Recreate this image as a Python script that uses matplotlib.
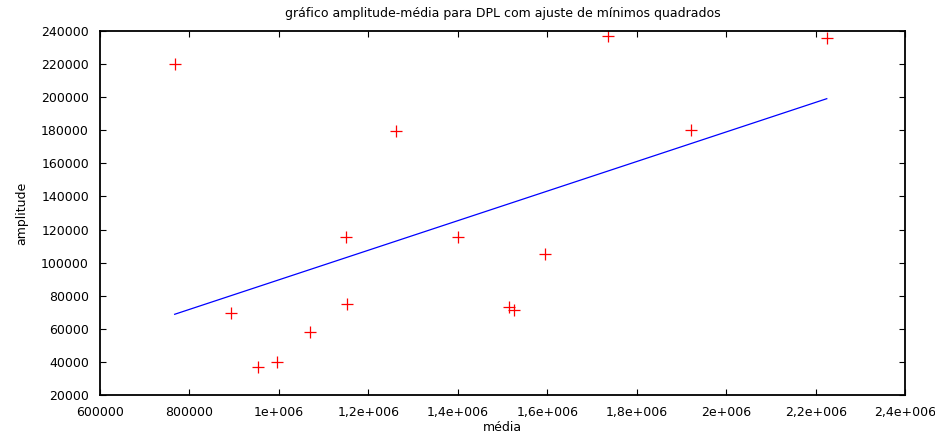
import numpy as np
import matplotlib
matplotlib.use("Agg")
from matplotlib import pyplot as plt
from matplotlib.ticker import FuncFormatter

# data (media, amplitude)
media = [766850, 892000, 952700, 995300, 1069200, 1152100, 1150000, 1261800,
         1400500, 1514200, 1526300, 1593900, 1736600, 1920300, 2224900]
amplitude = [220300, 69400, 36700, 39700, 57900, 74850, 115500, 179700,
             115500, 73200, 71400, 105000, 236700, 180300, 236000]

# least squares line endpoints as drawn
fit_x = [766850, 2224900]
fit_y = [68800, 199100]

xticks = np.arange(600000, 2400001, 200000)
yticks = np.arange(20000, 240001, 20000)


def gp_fmt(v, pos):
    # gnuplot-like labels: 1e+006, 1,2e+006
    if v < 1e6:
        return "%d" % v
    m = v / 1e6
    s = ("%g" % m).replace(".", ",")
    return s + "e+006"


plt.rcParams['font.family'] = ['DejaVu Sans']
fig = plt.figure(figsize=(9.35, 4.32), dpi=100)
ax = fig.add_axes([0.107, 0.0856, 0.861, 0.8426])

ax.plot(fit_x, fit_y, color="blue", lw=0.9)
ax.plot(media, amplitude, ls="none", marker="+", color="red", ms=8, mew=0.9)

ax.set_xlim(600000, 2400000)
ax.set_ylim(20000, 240000)
ax.set_xticks(xticks)
ax.set_yticks(yticks)
ax.xaxis.set_major_formatter(FuncFormatter(gp_fmt))
ax.yaxis.set_major_formatter(FuncFormatter(lambda v, p: "%d" % v))
ax.tick_params(direction="in", top=True, right=True, length=4, width=0.8,
               labelsize=9)
ax.tick_params(axis="y", pad=8)
ax.tick_params(axis="x", pad=8)
for s in ax.spines.values():
    s.set_linewidth(1.3)

ax.set_title("gráfico amplitude-média para DPL com ajuste de mínimos quadrados",
             fontsize=9, pad=10)
ax.set_xlabel("média", fontsize=9, labelpad=1)
ax.set_ylabel("amplitude", fontsize=9, labelpad=9)

fig.savefig("out.png", dpi=100)
